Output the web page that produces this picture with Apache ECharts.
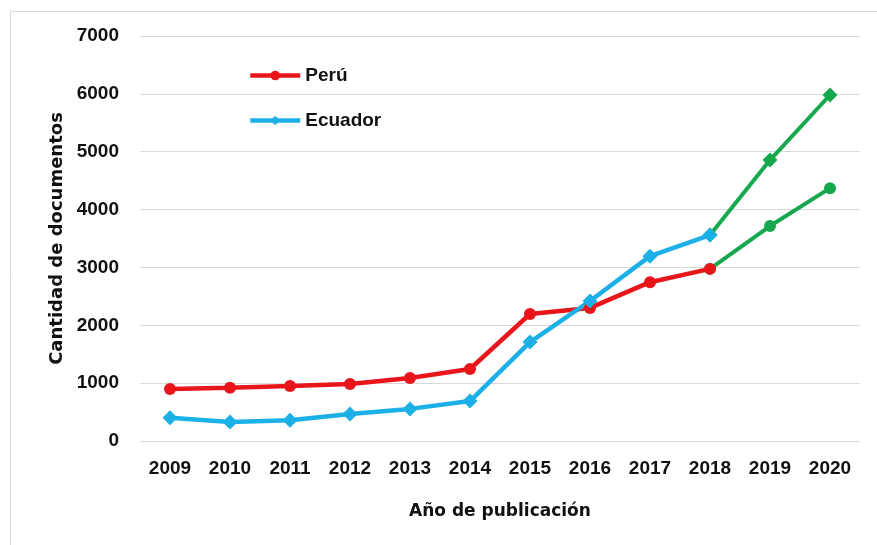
<!DOCTYPE html>
<html>
<head>
<meta charset="utf-8">
<script src="https://cdn.jsdelivr.net/npm/echarts@6/dist/echarts.min.js"></script>
<style>
  html, body { margin: 0; padding: 0; background: #fff; }
  #chart { width: 877px; height: 545px; }
</style>
</head>
<body>
<div id="chart"></div>
<script>
var years = ['2009','2010','2011','2012','2013','2014','2015','2016','2017','2018','2019','2020']
var peru = [900, 920, 950, 985, 1090, 1245, 2195, 2300, 2745, 2975, 3715, 4370]
var ecuador = [400, 330, 360, 465, 555, 690, 1710, 2420, 3195, 3560, 4855, 5980]
// last years drawn in green
var splitAt = 9

function head(arr) {
  return arr.map(function (v, i) { return i <= splitAt ? v : null })
}
function tail(arr) {
  return arr.map(function (v, i) { return i >= splitAt ? v : null })
}

var font = 'Liberation Sans'
var chart = echarts.init(document.getElementById('chart'))
chart.setOption({
  animation: false,
  textStyle: { fontFamily: font },
  graphic: [{
    type: 'rect', left: 8, top: 9,
    shape: { width: 900, height: 560 },
    style: { fill: 'none', stroke: '#d9d9d9', lineWidth: 1 },
    silent: true
  }],
  grid: { left: 140, right: 17, top: 36, bottom: 104 },
  legend: {
    data: ['Perú', 'Ecuador'],
    orient: 'vertical',
    left: 243, top: 61,
    itemWidth: 50, itemHeight: 12, itemGap: 26,
    lineStyle: { width: 4.5 },
    textStyle: { fontSize: 19, fontWeight: 'bold', color: '#111', fontFamily: font }
  },
  xAxis: {
    type: 'category',
    data: years,
    name: 'Año de publicación',
    nameLocation: 'middle',
    nameGap: 62,
    nameTextStyle: { fontSize: 17, fontWeight: 'bold', color: '#111', fontFamily: 'DejaVu Sans' },
    axisLine: { show: false },
    axisTick: { show: false },
    axisLabel: { fontSize: 19, fontWeight: 'bold', color: '#111', margin: 18 }
  },
  yAxis: {
    type: 'value',
    min: 0, max: 7000, interval: 1000,
    name: 'Cantidad de documentos',
    nameLocation: 'middle',
    nameGap: 60,
    nameTextStyle: { fontSize: 18, fontWeight: 'bold', color: '#111', fontFamily: 'DejaVu Sans' },
    axisLabel: {
      fontSize: 19, fontWeight: 'bold', color: '#111', margin: 21,
      formatter: function (v) { return String(v) }
    },
    splitLine: { lineStyle: { color: '#d9d9d9', width: 1 } }
  },
  series: [
    {
      name: 'Perú', type: 'line', data: head(peru), z: 5,
      symbol: 'circle', symbolSize: 12,
      lineStyle: { color: '#e8161b', width: 4.5 },
      itemStyle: { color: '#e8161b' }
    },
    {
      name: 'Ecuador', type: 'line', data: head(ecuador), z: 5,
      symbol: 'diamond', symbolSize: 15,
      lineStyle: { color: '#1cb0e6', width: 4.5 },
      itemStyle: { color: '#1cb0e6' }
    },
    {
      name: 'Perú 2018-2020', type: 'line', data: tail(peru), z: 3,
      symbol: 'circle', symbolSize: 12,
      lineStyle: { color: '#17a84e', width: 4 },
      itemStyle: { color: '#17a84e' }
    },
    {
      name: 'Ecuador 2018-2020', type: 'line', data: tail(ecuador), z: 3,
      symbol: 'diamond', symbolSize: 15,
      lineStyle: { color: '#17a84e', width: 4 },
      itemStyle: { color: '#17a84e' }
    }
  ]
})
</script>
</body>
</html>
